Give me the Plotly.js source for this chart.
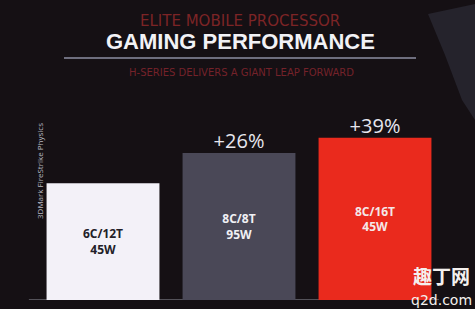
<!DOCTYPE html>
<html>
<head>
<meta charset="utf-8">
<script src="https://cdn.plot.ly/plotly-3.0.1.min.js"></script>
<style>html,body{margin:0;padding:0;background:#151014;}#chart{width:475px;height:309px;}</style>
</head>
<body>
<div id="chart"></div>
<script>
const categories = ["6C/12T 45W", "8C/8T 95W", "8C/16T 45W"];
const values = [100, 126, 139];
const barLabels = ["6C/12T<br>45W", "8C/8T<br>95W", "8C/16T<br>45W"];
const gainLabels = ["", "+26%", "+39%"];
const barColors = ["#f3f1f8", "#4a4857", "#ea2a1d"];
const barTextColors = ["#222028", "#f0f0f4", "#f4e8e8"];

const bars = {
  type: "bar",
  x: categories,
  y: values,
  text: barLabels,
  textposition: "inside",
  insidetextanchor: "middle",
  textangle: 0,
  textfont: {family: "Open Sans, sans-serif", size: 12, color: barTextColors, weight: "bold"},
  marker: {color: barColors, line: {width: 0}},
  hoverinfo: "skip",
  showlegend: false
};
const gains = {
  type: "scatter",
  mode: "text",
  x: categories,
  y: values,
  text: gainLabels,
  textposition: "top center",
  textfont: {family: "Open Sans, sans-serif", size: 20, color: "#e6e6ee"},
  hoverinfo: "skip",
  showlegend: false,
  cliponaxis: false
};

function px(x) { return (x - 35) / 408; }
function py(y) { return (300 - y) / 210; }

const layout = {
  width: 475, height: 309,
  margin: {l: 35, r: 32, t: 90, b: 9},
  paper_bgcolor: "#151014",
  plot_bgcolor: "#151014",
  bargap: 0.17,
  xaxis: {showticklabels: false, showgrid: false, zeroline: false, showline: false, fixedrange: true},
  yaxis: {range: [0, 180], showticklabels: false, showgrid: false, zeroline: false, showline: false, fixedrange: true},
  shapes: [
    {type: "line", xref: "paper", yref: "y", x0: -0.015, x1: 0.99, y0: 0, y1: 0, line: {color: "#6a6870", width: 1.5}, layer: "below"},
    {type: "line", xref: "paper", yref: "paper", x0: px(64), x1: px(416), y0: py(58), y1: py(58), line: {color: "#8c8ea2", width: 1.5}},
    {type: "path", xref: "paper", yref: "paper",
     path: "M " + px(428) + " " + py(14) + " L " + px(475) + " " + py(4) + " L " + px(475) + " " + py(120) + " L " + px(462) + " " + py(100) + " L " + px(445) + " " + py(55) + " Z",
     fillcolor: "#25232c", line: {width: 0}, layer: "below"}
  ],
  annotations: [
    {xref: "paper", yref: "paper", x: px(240), y: py(21), xanchor: "center", yanchor: "middle", text: "ELITE MOBILE PROCESSOR", showarrow: false,
     font: {family: "DejaVu Sans, sans-serif", size: 15, color: "#7c2426"}},
    {xref: "paper", yref: "paper", x: px(240), y: py(42), xanchor: "center", yanchor: "middle", text: "<b>GAMING PERFORMANCE</b>", showarrow: false,
     font: {family: "Liberation Sans, Arial, sans-serif", size: 22, color: "#f2f2f6"}},
    {xref: "paper", yref: "paper", x: px(241), y: py(72), xanchor: "center", yanchor: "middle", text: "H-SERIES DELIVERS A GIANT LEAP FORWARD", showarrow: false,
     font: {family: "DejaVu Sans, sans-serif", size: 10, color: "#74222a"}},
    {xref: "paper", yref: "paper", x: px(39), y: py(171), xanchor: "center", yanchor: "middle", text: "3DMark FireStrike Physics", textangle: -90, showarrow: false,
     font: {family: "Open Sans, sans-serif", size: 8, color: "#b8b8c0"}},
    {xref: "paper", yref: "paper", x: px(441), y: py(275), xanchor: "center", yanchor: "middle", text: "<b>趣丁网</b>", showarrow: false,
     font: {family: "Noto Sans CJK SC, sans-serif", size: 19, color: "#f4f0ee"}},
    {xref: "paper", yref: "paper", x: px(441), y: py(300), xanchor: "center", yanchor: "middle", text: "q2d.com", showarrow: false,
     font: {family: "DejaVu Sans, sans-serif", size: 14, color: "#f4f0ee"}}
  ]
};

Plotly.newPlot("chart", [bars, gains], layout, {displayModeBar: false, staticPlot: true});
</script>
</body>
</html>
